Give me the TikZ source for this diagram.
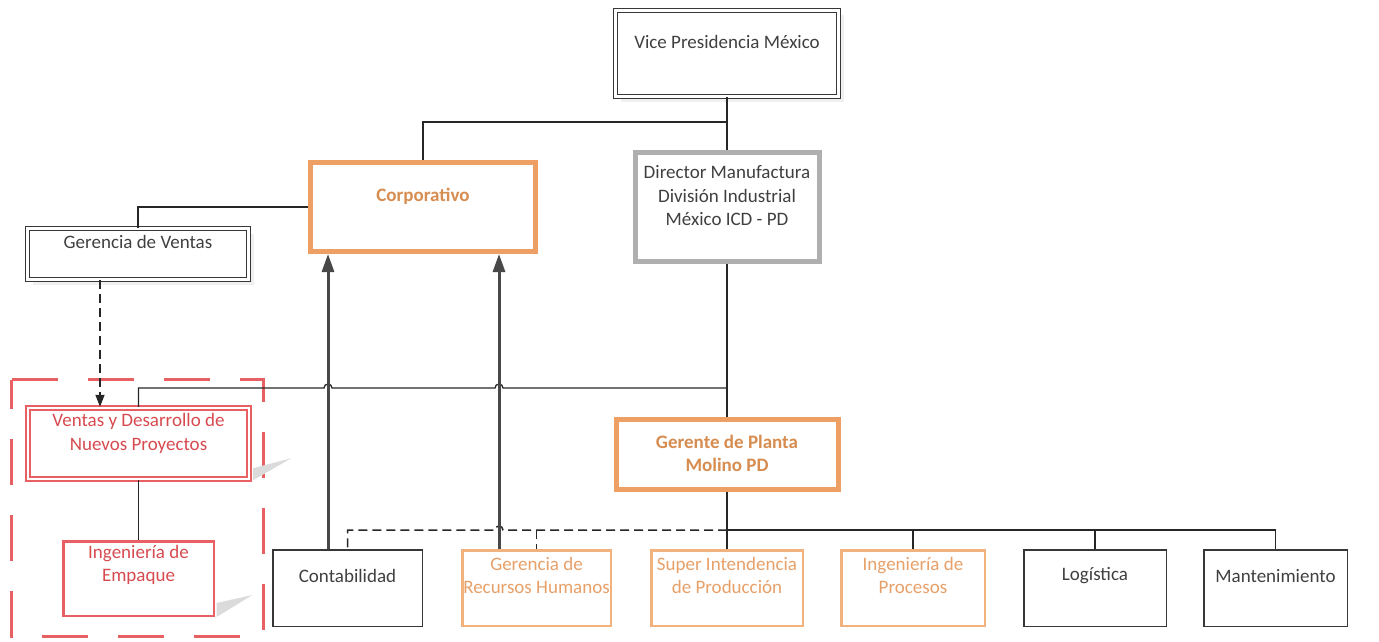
\documentclass[tikz,border=0pt]{standalone}
\usepackage{fontspec}
\setmainfont{Carlito}
\usetikzlibrary{arrows.meta,shadows}
\definecolor{ink}{RGB}{64,64,64}
\definecolor{edge}{RGB}{55,55,55}
\definecolor{orgline}{RGB}{238,160,100}
\definecolor{orgthin}{RGB}{242,178,125}
\definecolor{orgtext}{RGB}{215,140,80}
\definecolor{orgtextl}{RGB}{232,160,105}
\definecolor{redline}{RGB}{232,95,100}
\definecolor{redtext}{RGB}{215,75,80}
\definecolor{greyline}{RGB}{175,175,175}
\definecolor{arrowgrey}{RGB}{72,72,72}
\begin{document}
\begin{tikzpicture}[x=1pt,y=-1pt,
  font=\fontsize{19}{23.5}\selectfont,
  box/.style={draw=edge,line width=1.5pt,fill=white,inner sep=0pt},
  dbox/.style={draw=edge,line width=1.2pt,double=white,double distance=2.5pt,fill=white,inner sep=0pt,
    drop shadow={opacity=0.12,shadow xshift=5pt,shadow yshift=-5pt}},
  obox/.style={draw=orgline,line width=5pt,fill=white,inner sep=0pt},
  othin/.style={draw=orgthin,line width=2.5pt,fill=white,inner sep=0pt},
  gbox/.style={draw=greyline,line width=5pt,fill=white,inner sep=0pt},
  rdbox/.style={draw=redline,line width=2.4pt,double=white,double distance=1.6pt,fill=white,inner sep=0pt},
  rbox/.style={draw=redline,line width=2.5pt,fill=white,inner sep=0pt},
  grp/.style={draw=redline,line width=3.5pt,dash pattern=on 46pt off 30pt,line cap=butt},
  txt/.style={text=ink,align=center,inner sep=0pt},
  otxt/.style={text=orgtext,align=center,inner sep=0pt,font=\fontsize{19}{23.5}\selectfont\bfseries},
  otxtl/.style={text=orgtextl,align=center,inner sep=0pt},
  rtxt/.style={text=redtext,align=center,inner sep=0pt},
  conn/.style={draw=black!85,line width=1.3pt},
  dconn/.style={draw=black!85,line width=1.5pt,dash pattern=on 9pt off 5pt},
  uparrow/.style={draw=arrowgrey,line width=3pt,-{Triangle[length=18pt,width=12pt]}},
  shade/.style={fill=black!14}
]
\useasboundingbox (0,0) rectangle (1379,642);

% dashed group around the new-projects area
\node[inner sep=0pt,minimum width=251.5,minimum height=256.5] (grp) at (137.5,508) {};
\draw[grp] (grp.north west) -- (grp.north east) -- (grp.south east)
  -- (grp.south west) -- cycle;

% top levels
\node[dbox,minimum width=223,minimum height=86] (vp) at (727,53.5) {};
\node[txt] (vpT) at (727,42) {Vice Presidencia México};

\node[obox,minimum width=225,minimum height=89] (corp) at (423,207) {};
\node[otxt] (corpT) at (423,196) {Corporativo};

\node[gbox,minimum width=184,minimum height=109] (dir) at (727,207) {};
\node[txt] (dirT) at (727,196) {Director Manufactura\\División Industrial\\México ICD - PD};

\node[dbox,minimum width=221,minimum height=51] (gv) at (138,254) {};
\node[txt] (gvT) at (138,242) {Gerencia de Ventas};

% new projects area
\node[rdbox,minimum width=221,minimum height=71] (vdn) at (138.5,443.5) {};
\node[rtxt] (vdnT) at (138.5,433.5) {Ventas y Desarrollo de\\Nuevos Proyectos};
\fill[shade] ([xshift=3pt,yshift=12pt]vdn.south east) -- ++(38,-10) -- ([xshift=3pt]vdn.south east) -- cycle;

\node[rbox,minimum width=150.5,minimum height=74.5] (emp) at (138.5,578.5) {};
\node[rtxt] (empT) at (138.5,565) {Ingeniería de\\Empaque};
\fill[shade] ([xshift=1.5pt,yshift=14pt]emp.south east) -- ++(36,-8) -- ([xshift=1.5pt]emp.south east) -- cycle;

% plant manager
\node[obox,minimum width=222,minimum height=70] (gm) at (727,454.5) {};
\node[otxt] (gmT) at (727,453.5) {Gerente de Planta\\Molino PD};

% bottom row
\node[box,minimum width=149.5,minimum height=76.5] (cont) at (347.5,588) {};
\node[txt] (contT) at (347.5,576) {Contabilidad};
\node[othin,minimum width=148.5,minimum height=75.5] (grh) at (536.5,588) {};
\node[otxtl] (grhT) at (536.5,575.5) {Gerencia de\\Recursos Humanos};
\node[othin,minimum width=151.5,minimum height=75.5] (sup) at (727,588) {};
\node[otxtl] (supT) at (727,575.5) {Super Intendencia\\de Producción};
\node[othin,minimum width=143.5,minimum height=75.5] (ip) at (913,588) {};
\node[otxtl] (ipT) at (913,575.5) {Ingeniería de\\Procesos};
\node[box,minimum width=142.5,minimum height=76.5] (log) at (1095,588) {};
\node[txt] (logT) at (1095,576) {Logística};
\node[box,minimum width=143.5,minimum height=76.5] (man) at (1275.5,588) {};
\node[txt] (manT) at (1275.5,576) {Mantenimiento};

% junction points
\coordinate (j1) at (727,122);
\coordinate (jv) at (727,388);
\coordinate (hA) at (324,388);
\coordinate (hB) at (495,388);
\coordinate (bus) at (727,530);
\coordinate (hC) at (503,530);

% solid reporting lines
\draw[conn] (vp.south) -- (dir.north);
\draw[conn] (corp.north) |- (j1);
\draw[conn] (gv.north) |- (corp.west);
\draw[conn] (dir.south) -- (gm.north);
\draw[conn] (vdn.north) |- (hA) arc[start angle=180,end angle=0,radius=4pt]
  -- (hB) arc[start angle=180,end angle=0,radius=4pt] -- (jv);
\draw[conn] (vdn.south) -- (emp.north);
\draw[conn] (gm.south) -- (sup.north);
\draw[conn] (bus) -| (ip.north);
\draw[conn] (bus) -| (log.north);
\draw[conn] (bus) -| (man.north);

% dotted-line relations
\draw[dconn] (bus) -- (hC) arc[start angle=0,end angle=180,radius=4pt]
  -- (cont.north |- bus) -- (cont.north);
\draw[dconn] (grh.north |- bus) -- (grh.north);
\draw[dconn,-{Triangle[length=12pt,width=9pt]}] ([xshift=-38pt]gv.south) -- ([xshift=-38pt]gv.south |- vdn.north);

% support functions reporting to corporate
\draw[uparrow] ([xshift=-19.5pt]cont.north) -- ([xshift=-19.5pt]cont.north |- corp.south);
\draw[uparrow] ([xshift=-37.5pt]grh.north) -- ([xshift=-37.5pt]grh.north |- corp.south);
\end{tikzpicture}
\end{document}
